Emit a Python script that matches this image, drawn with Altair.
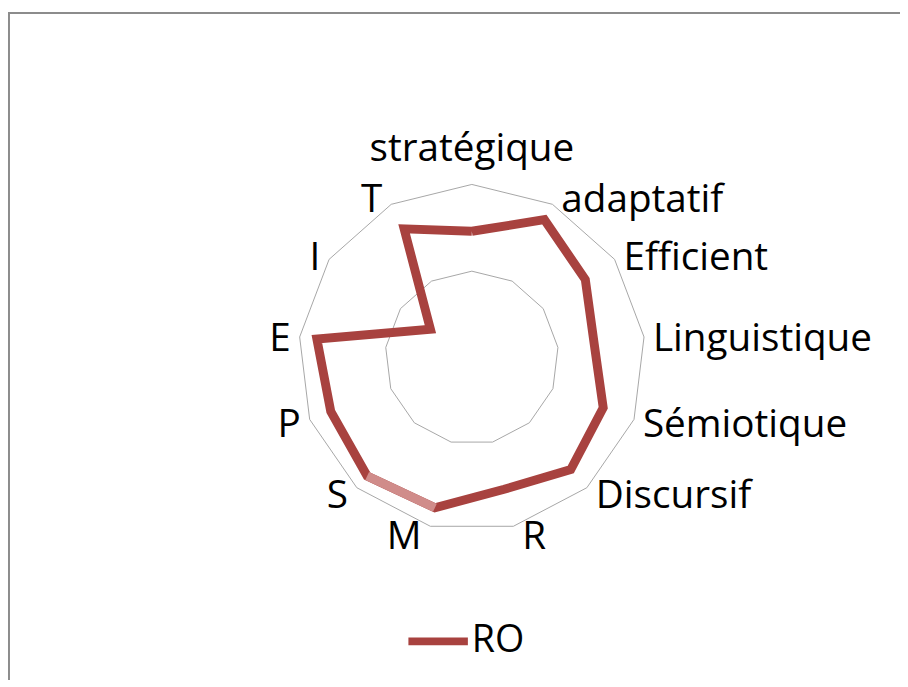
import altair as alt
import pandas as pd

# ---- data ----
categories = ["stratégique", "adaptatif", "Efficient", "Linguistique", "Sémiotique",
              "Discursif", "R", "M", "S", "P", "E", "I", "T"]
values = [0.73, 0.90, 0.795, 0.71, 0.81, 0.86, 0.78, 0.89, 0.91, 0.87, 0.90, 0.29, 0.84]
series_name = "RO"
highlight_point = "S"          # the segment leading into this point is drawn lighter
grid_levels = [0.5, 1.0]

# ---- styling ----
main_color = "#A8423F"
light_color = "#D08C8A"
grid_color = "#A6A6A6"
frame_color = "#8C8C8C"
font = "Open Sans"
label_size = 39
W, H = 900, 675
R_PX = 175.0                  # pixel radius of the outer ring
CX, CY = 468.0, 350.0         # centre of the radar inside the view
N = len(categories)

# ---- tables built from the lists ----
line_df = pd.DataFrame({
    "idx": list(range(N + 1)),
    "cat": categories + [categories[0]],
    "value": values + [values[0]],
    "series": series_name,
})
hi = categories.index(highlight_point)
hl_df = pd.DataFrame({
    "idx": [hi - 1, hi],
    "value": [values[hi - 1], values[hi]],
})
grid_rows = []
for lv in grid_levels:
    for i in range(N + 1):
        grid_rows.append({"level": lv, "idx": i, "value": lv})
grid_df = pd.DataFrame(grid_rows)
lab_df = pd.DataFrame({"idx": list(range(N)), "cat": categories})

xscale = alt.Scale(domain=[-CX / R_PX, (W - CX) / R_PX], nice=False, zero=False)
yscale = alt.Scale(domain=[-(H - CY) / R_PX, CY / R_PX], nice=False, zero=False)
X = alt.X("x:Q", scale=xscale, axis=None)
Y = alt.Y("y:Q", scale=yscale, axis=None)

ang = f"datum.idx * 2 * PI / {N}"
xy = dict(x=f"datum.value * sin({ang})", y=f"datum.value * cos({ang})")

grid = alt.Chart(grid_df).mark_line(color=grid_color, strokeWidth=1).transform_calculate(
    **xy).encode(x=X, y=Y, detail="level:N", order="idx:Q")

main = alt.Chart(line_df).mark_line(strokeWidth=9, strokeJoin="miter", strokeCap="butt").transform_calculate(
    **xy).encode(
    x=X, y=Y, order="idx:Q",
    color=alt.Color("series:N",
                    scale=alt.Scale(domain=[series_name], range=[main_color]),
                    legend=alt.Legend(title=None, orient="none", legendX=400, legendY=602,
                                      symbolType="stroke", symbolStrokeWidth=8, symbolSize=3600,
                                      labelFontSize=38, labelFont=font, labelColor="black",
                                      labelOffset=0, padding=0)))

light = alt.Chart(hl_df).mark_line(strokeWidth=9, strokeCap="butt", color=light_color).transform_calculate(
    **xy).encode(x=X, y=Y, order="idx:Q")

gap = 9.0 / R_PX
lab_base = alt.Chart(lab_df).transform_calculate(
    s=f"sin({ang})", c=f"cos({ang})"
).transform_calculate(
    x=f"datum.s + (datum.s > 0.05 ? {gap} : (datum.s < -0.05 ? -{gap} : 0))",
    y=f"abs(datum.s) < 0.05 ? datum.c + {24.0 / R_PX} : datum.c * 1.045 - {3.0 / R_PX}",
)
lab_left = lab_base.transform_filter("datum.s > 0.05").mark_text(
    align="left", baseline="middle", font=font, fontSize=label_size, color="black"
).encode(x=X, y=Y, text="cat:N")
lab_right = lab_base.transform_filter("datum.s < -0.05").mark_text(
    align="right", baseline="middle", font=font, fontSize=label_size, color="black"
).encode(x=X, y=Y, text="cat:N")
lab_center = lab_base.transform_filter("abs(datum.s) <= 0.05").mark_text(
    align="center", baseline="alphabetic", font=font, fontSize=label_size, color="black"
).encode(x=X, y=Y, text="cat:N")

frame_top = alt.Chart(pd.DataFrame({"k": [0]})).mark_rule(color=frame_color, strokeWidth=2).encode(
    x=alt.value(0), x2=alt.value(W), y=alt.value(2))
frame_left = alt.Chart(pd.DataFrame({"k": [0]})).mark_rule(color=frame_color, strokeWidth=2).encode(
    x=alt.value(1), y=alt.value(2), y2=alt.value(H))

chart = alt.layer(frame_top, frame_left, grid, main, light, lab_left, lab_right, lab_center).properties(
    width=W, height=H, padding=0, autosize=alt.AutoSizeParams(type="none")
).configure_view(stroke=None)

chart.save("out.html", embed_options={"renderer": "svg", "actions": False})
